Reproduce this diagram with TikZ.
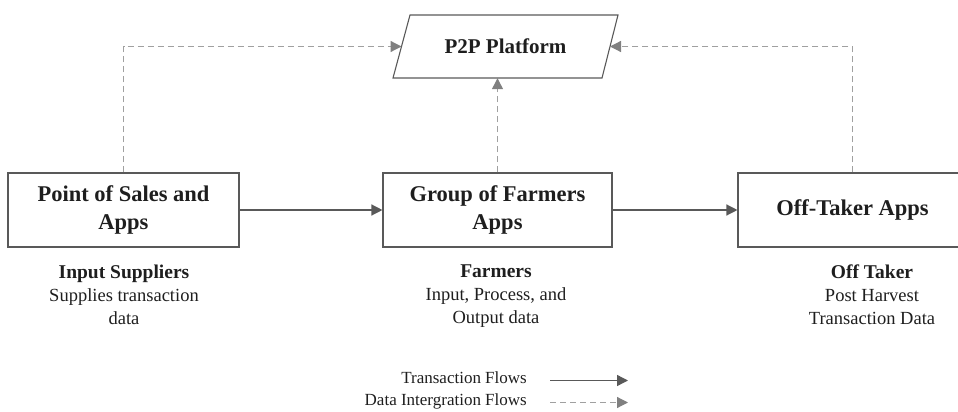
\documentclass[tikz,border=0pt]{standalone}
\usepackage{fontspec}
\setmainfont{Liberation Serif}
\usetikzlibrary{arrows.meta}
\definecolor{boxc}{RGB}{89,89,89}
\definecolor{dashc}{RGB}{160,160,160}
\definecolor{tipc}{RGB}{128,128,128}
\definecolor{textc}{RGB}{30,30,30}
\newcommand{\subhead}[1]{{\fontsize{19.5}{23.5}\selectfont\bfseries #1}}
\tikzset{
  appbox/.style={draw=boxc, line width=1.1pt, minimum height=74pt, inner sep=2pt,
    align=center, font=\fontsize{22.5}{28}\selectfont\bfseries, text=textc},
  platlabel/.style={minimum width=210pt, minimum height=63pt, inner sep=0pt,
    font=\fontsize{21}{26}\selectfont\bfseries, text=textc},
  platline/.style={draw=boxc, line width=1.1pt, line join=miter},
  transflow/.style={draw=boxc, line width=1.3pt, -{Triangle[length=11pt,width=11pt]}},
  dataflow/.style={draw=dashc, line width=1.2pt, dash pattern=on 6pt off 4pt,
    -{Triangle[length=11pt,width=11pt,color=tipc]}},
  sublabel/.style={align=center, inner sep=0pt, font=\fontsize{18.5}{23}\selectfont, text=textc},
  legendtext/.style={inner sep=0pt, font=\fontsize{17}{20}\selectfont, text=textc},
}
\begin{document}
\begin{tikzpicture}[x=1pt,y=-1pt]
\useasboundingbox (0,0) rectangle (958,412);
% application boxes
\node[appbox, minimum width=231pt] (ps) at (123.5,210) {Point of Sales and\\Apps};
\node[appbox, minimum width=229pt] (gf) at (497.5,210) {Group of Farmers\\Apps};
\node[appbox, minimum width=229pt] (ot) at (852.5,210) {Off-Taker Apps};
% platform
\node[platlabel] (plat) at (505.5,46.5) {P2P Platform};
\draw[platline] (393,78) -- (410,15) -- (618,15) -- (602,78) -- cycle;
\coordinate (platL) at (401.5,46.5);
\coordinate (platR) at (610,46.5);
% data integration flows
\draw[dataflow] (ps.north) |- (platL);
\draw[dataflow] (ot.north) |- (platR);
\draw[dataflow] (gf.north) -- (gf.north |- plat.south);
% transaction flows
\draw[transflow] (ps.east) -- (gf.west);
\draw[transflow] (gf.east) -- (ot.west);
% sub labels
\node[sublabel, anchor=north] (isup) at (124,265) {\subhead{Input Suppliers}\\Supplies transaction\\data};
\node[sublabel, anchor=north] (farm) at (496,265) {\subhead{Farmers}\\Input, Process, and\\Output data};
\node[sublabel, anchor=north] (otk) at (872,265) {\subhead{Off Taker}\\Post Harvest\\Transaction Data};
% legend
\node[legendtext, anchor=base east] (lt) at (527,383) {Transaction Flows};
\node[legendtext, anchor=base east] (ld) at (527,405) {Data Intergration Flows};
\coordinate (lt1) at (550,380.5);
\coordinate (lt2) at (628,380.5);
\coordinate (ld1) at (550,402.5);
\coordinate (ld2) at (628,402.5);
\draw[transflow] (lt1) -- (lt2);
\draw[dataflow] (ld1) -- (ld2);
\end{tikzpicture}
\end{document}
